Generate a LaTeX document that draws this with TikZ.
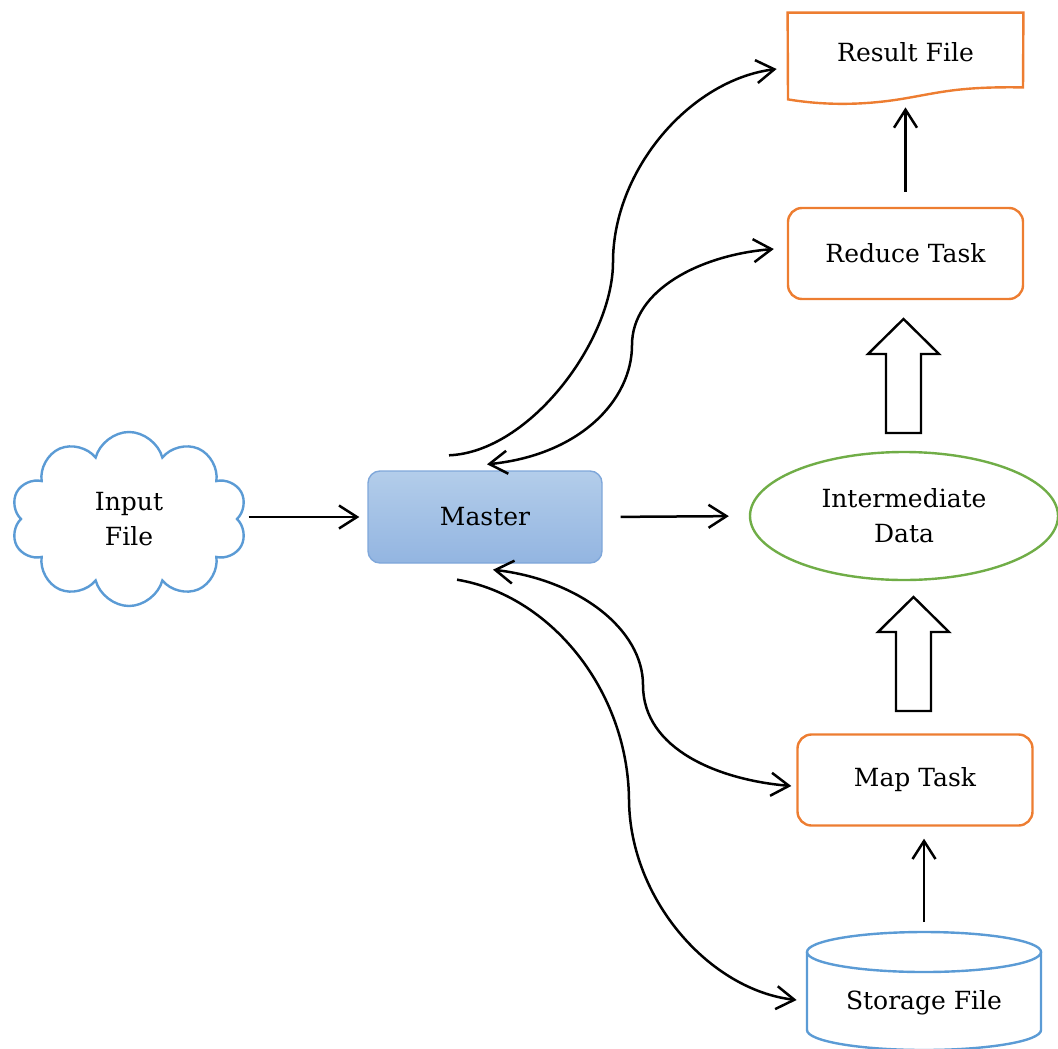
\documentclass[tikz,border=0pt]{standalone}
\usepackage{fontspec}
\setmainfont{DejaVu Serif}
\usetikzlibrary{arrows.meta,shapes.geometric,shapes.symbols}

\definecolor{taskorange}{HTML}{ED7D31}
\definecolor{datagreen}{HTML}{70AD47}
\definecolor{fileblue}{HTML}{5B9BD5}
\definecolor{mastertop}{HTML}{B3CDEA}
\definecolor{masterbot}{HTML}{93B5E1}
\definecolor{masterline}{HTML}{7FA7DA}

% hollow block arrow, given the middle of its foot
\newcommand{\fatarrow}[1]{%
  \draw[black, line width=1.2pt, line join=miter] #1 -- ++(17.5,0) -- ++(0,-79) -- ++(18,0)
    -- ++(-35.5,-35) -- ++(-35.5,35) -- ++(18,0) -- ++(0,79) -- cycle;}

\begin{document}
\begin{tikzpicture}[
  x=0.5pt,
  y=-0.5pt,
  font=\fontsize{12.5}{17.5}\selectfont,
  >={Straight Barb[length=9pt,width=11.5pt]},
  flow/.style={line width=1.25pt, ->},
  both/.style={line width=1.25pt, <->},
  task/.style={draw=taskorange, line width=1.2pt, rounded corners=7pt,
    minimum width=117.5pt, minimum height=45.5pt}
]
\useasboundingbox (0,0) rectangle (1058,1048);

% input and master
\node[cloud, draw=fileblue, line width=1.2pt, cloud puffs=10, aspect=1.4,
  minimum width=118pt, minimum height=87pt, align=center] (input) at (129,519) {Input\\File};
\node[draw=masterline, line width=0.7pt, top color=mastertop, bottom color=masterbot,
  rounded corners=6pt, minimum width=117pt, minimum height=46pt] (master) at (485,517) {Master};

% intermediate data and tasks
\node[ellipse, draw=datagreen, line width=1.2pt, minimum width=154pt, minimum height=64pt,
  align=center] (inter) at (904,516) {Intermediate\\Data};
\node[task] (reduce) at (905.5,253.5) {Reduce Task};
\node[task] (map) at (915,780) {Map Task};

% result file, wavy bottom
\node[minimum width=117.5pt, minimum height=39pt] (result) at (905.5,52) {Result File};
\draw[taskorange, line width=1.2pt] (result.north west) -- (result.north east)
  -- ([shift={(117.5,-4)}]result.south)
  .. controls ([shift={(54.5,-5)}]result.south) and ([shift={(34.5,1)}]result.south) .. ([shift={(-0.5,7)}]result.south)
  .. controls ([shift={(-35.5,13)}]result.south) and ([shift={(-75.5,15)}]result.south) .. ([shift={(-117.5,8)}]result.south)
  -- cycle;

% storage file, cylinder
\node[minimum width=117pt, minimum height=39pt] (storage) at (924,1003) {Storage File};
\coordinate (storetop) at ([shift={(0,-71)}]storage.center);
\draw[fileblue, line width=1.2pt] ([shift={(0,-51)}]storage.center) ellipse [x radius=58.5pt, y radius=10pt];
\draw[fileblue, line width=1.2pt] ([shift={(-117,-51)}]storage.center) -- ++(0,78)
  arc [start angle=180, end angle=360, x radius=58.5pt, y radius=10pt] -- ++(0,-78);

% straight connectors
\draw[flow, shorten <=5pt, shorten >=4pt] (input.east |- master.west) -- (master.west);
\draw[flow, shorten <=9pt, shorten >=10pt] (master.east) -- (inter.west);
\draw[flow, shorten <=7.5pt, shorten >=8pt] (reduce.north) -- (reduce.north |- result.south);
\draw[flow, shorten <=5pt, shorten >=6pt] (storetop) -- (storetop |- map.south);

% data moving up
\fatarrow{(913.5,711)}
\fatarrow{(903.5,433)}

% master to the other side
\draw[flow] ([shift={(-36,-15)}]master.north) .. controls (530,452) and (613,340) .. (613,262)
  .. controls (613,170) and (690,80) .. ([shift={(-11,17)}]result.west);
\draw[both] ([shift={(2,-6)}]master.north) .. controls (580,455) and (632,400) .. (632,345)
  .. controls (632,290) and (700,255) .. ([shift={(-13,-4.5)}]reduce.west);
\draw[both] ([shift={(8,6)}]master.south) .. controls (580,580) and (643,630) .. (643,685)
  .. controls (643,750) and (720,780) .. ([shift={(-5,6)}]map.west);
\draw[flow] ([shift={(-28,16)}]master.south) .. controls (550,595) and (628,690) .. (629,800)
  .. controls (630,900) and (710,990) .. ([shift={(-10,-3)}]storage.west);
\end{tikzpicture}
\end{document}
